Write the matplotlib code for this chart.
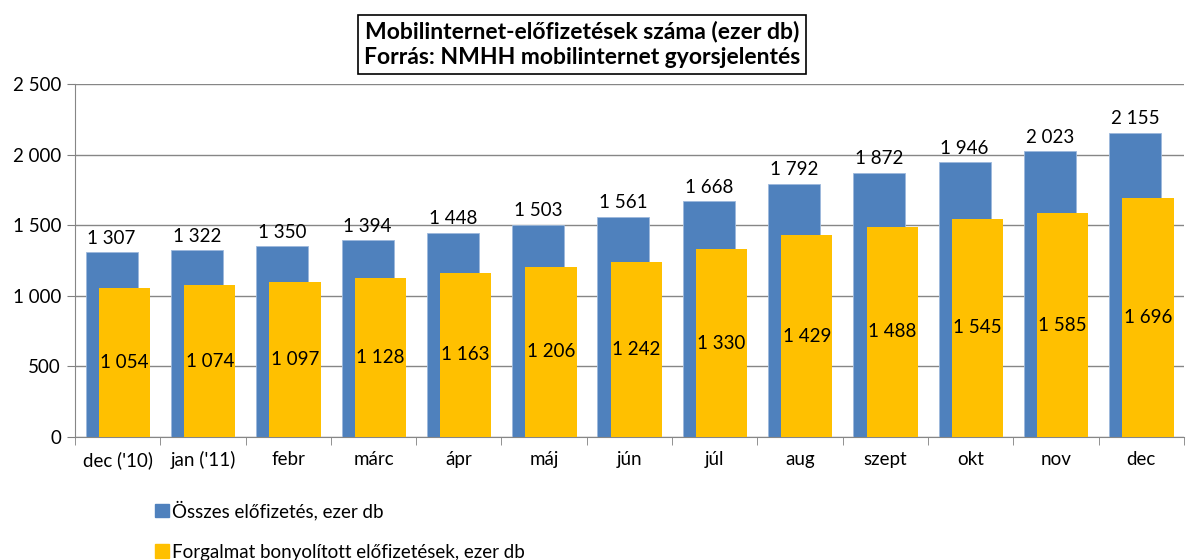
import numpy as np
import matplotlib.pyplot as plt
from matplotlib.patches import Patch

plt.rcParams['font.family'] = ['Lato', 'DejaVu Sans']

# adatok (ezer db)
honapok = ["dec ('10)", "jan ('11)", "febr", "márc", "ápr", "máj", "jún",
           "júl", "aug", "szept", "okt", "nov", "dec"]
osszes = [1307, 1322, 1350, 1394, 1448, 1503, 1561, 1668, 1792, 1872, 1946, 2023, 2155]
forgalmas = [1054, 1074, 1097, 1128, 1163, 1206, 1242, 1330, 1429, 1488, 1545, 1585, 1696]
y_ticks = [0, 500, 1000, 1500, 2000, 2500]


def fmt(v):
    return f"{v:,}".replace(",", " ")


fig = plt.figure(figsize=(11.86, 5.6), dpi=100, facecolor='white')
ax = fig.add_axes([0.0632, 0.2196, 0.935, 0.6304])

x = np.arange(len(honapok))
kek = ax.bar(x - 0.07, osszes, width=0.61, color='#4F81BD', edgecolor='#9DB9DC',
             linewidth=0.6, zorder=2)
sarga = ax.bar(x + 0.08, forgalmas, width=0.60, color='#FFC000', zorder=3)

for b, v in zip(kek, osszes):
    ax.text(b.get_x() + b.get_width() / 2, v + 40, fmt(v), ha='center', va='bottom',
            fontsize=13.5, zorder=4)
for b, v in zip(sarga, forgalmas):
    ax.text(b.get_x() + b.get_width() / 2, v / 2, fmt(v), ha='center', va='center',
            fontsize=13.5, zorder=4)

ax.set_xlim(-0.5, len(honapok) - 0.5)
ax.set_ylim(0, 2500)
ax.set_yticks(y_ticks)
ax.set_yticklabels([fmt(v) for v in y_ticks], fontsize=13.5)
ax.set_xticks(x)
ax.set_xticklabels(honapok, fontsize=13.5)
ax.set_xticks(np.arange(len(honapok) + 1) - 0.5, minor=True)
ax.tick_params(axis='x', which='major', length=0, pad=10)
ax.tick_params(axis='x', which='minor', length=6, color='#808080')
ax.tick_params(axis='y', length=6, color='#808080', pad=4)
ax.yaxis.grid(True, color='#868686', linewidth=1, zorder=0)
ax.set_axisbelow(True)
for s in ['top', 'right']:
    ax.spines[s].set_visible(False)
for s in ['left', 'bottom']:
    ax.spines[s].set_color('#868686')

fig.text(0.491, 0.921, "Mobilinternet-előfizetések száma (ezer db)\nForrás: NMHH mobilinternet gyorsjelentés",
         ha='center', va='center', fontsize=16.5, fontweight='bold', linespacing=1.3,
         bbox=dict(boxstyle='square,pad=0.25', facecolor='white', edgecolor='black', linewidth=1.2))

handles = [Patch(color='#4F81BD'), Patch(color='#FFC000')]
fig.legend(handles, ["Összes előfizetés, ezer db", "Forgalmat bonyolított előfizetések, ezer db"],
           loc='upper left', bbox_to_anchor=(0.124, 0.12), frameon=False, fontsize=13.5,
           handlelength=0.75, handleheight=0.75, handletextpad=0.2, labelspacing=1.25,
           borderaxespad=0)

fig.savefig('out.png', dpi=100)
